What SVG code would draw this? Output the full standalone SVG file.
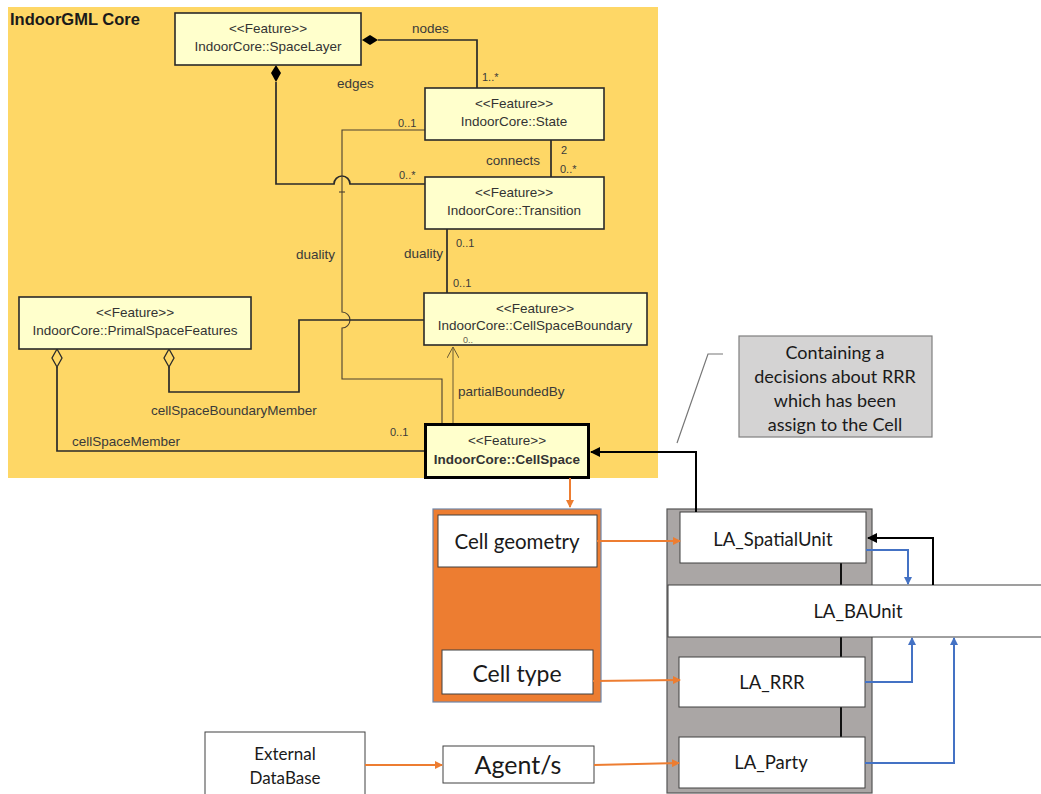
<svg xmlns="http://www.w3.org/2000/svg" width="1041" height="794" viewBox="0 0 1041 794">
<defs>
<style>
.uml{fill:#ffffcc;stroke:#2a2a2a;stroke-width:1.6}
.t{font-family:"Liberation Sans",Arial,sans-serif;font-size:13.5px;fill:#3a3a3a}
.tc{font-family:"Liberation Sans",Arial,sans-serif;font-size:13.5px;fill:#333;text-anchor:middle}
.lbl{font-family:"Liberation Sans",Arial,sans-serif;font-size:11px;fill:#3a3a3a}
.c{fill:none;stroke:#2a2a2a;stroke-width:1.7}
.thin{fill:none;stroke:#4a4030;stroke-width:1.1}
.box{fill:#ffffff;stroke:#404040;stroke-width:1}
.cal{font-family:Lato,"Open Sans",sans-serif;fill:#1a1a1a;text-anchor:middle}
.or{fill:none;stroke:#ed7d31;stroke-width:2}
.bl{fill:none;stroke:#4472c4;stroke-width:2}
.bk{fill:none;stroke:#000;stroke-width:2}
</style>
<marker id="ao" markerWidth="8" markerHeight="8" refX="7" refY="4" orient="auto" markerUnits="userSpaceOnUse"><path d="M0,0 L8,4 L0,8 z" fill="#ed7d31"/></marker>
<marker id="ab" markerWidth="8" markerHeight="8" refX="7" refY="4" orient="auto" markerUnits="userSpaceOnUse"><path d="M0,0 L8,4 L0,8 z" fill="#4472c4"/></marker>
<marker id="ak" markerWidth="10" markerHeight="10" refX="9" refY="5" orient="auto" markerUnits="userSpaceOnUse"><path d="M0,0 L10,5 L0,10 z" fill="#000"/></marker>
<marker id="aopen" markerWidth="12" markerHeight="12" refX="11" refY="6" orient="auto" markerUnits="userSpaceOnUse"><path d="M0,0 L11,6 L0,12" fill="none" stroke="#6a5a35" stroke-width="1"/></marker>
</defs>

<rect x="8" y="7" width="650" height="471" fill="#fed766"/>
<text x="10" y="25" font-family="Liberation Sans,Arial,sans-serif" font-size="16.5" font-weight="bold" fill="#1a1a1a">IndoorGML Core</text>

<g id="connectors">
  <!-- nodes -->
  <path class="c" d="M378,40 L477,40 L477,88"/>
  <path d="M362,40 L370,35 L378,40 L370,45 z" fill="#000"/>
  <!-- edges -->
  <path class="c" d="M276,82 L276,184 L334,184 A8,8 0 0 1 350,184 L425,184"/>
  <path d="M276,65 L281,73 L276,82 L271,73 z" fill="#000"/>
  <!-- state duality -->
  <path class="thin" d="M425,130 L342,130 L342,312 A8,8 0 0 1 342,328 L342,379 L442,379 L442,424"/>
  <path class="thin" d="M339,192 L345,192"/>
  <!-- connects -->
  <path class="c" d="M551,140 L551,177"/>
  <!-- transition-boundary duality -->
  <path class="c" d="M447,229 L447,293"/>
  <!-- partialBoundedBy -->
  <path fill="none" stroke="#6a5a35" stroke-width="1" d="M453,424 L453,347" marker-end="url(#aopen)"/>
  <!-- cellSpaceBoundaryMember -->
  <path class="c" d="M169,367 L169,392 L299,392 L299,320 L424,320"/>
  <path d="M169,349 L174,358 L169,367 L164,358 z" fill="#fed766" stroke="#2a2a2a" stroke-width="1.3"/>
  <!-- cellSpaceMember -->
  <path class="c" d="M57,367 L57,451 L425,451"/>
  <path d="M57,349 L62,358 L57,367 L52,358 z" fill="#fed766" stroke="#2a2a2a" stroke-width="1.3"/>
</g>

<g id="gray-container"><rect x="667" y="509" width="205" height="284" fill="#aaa6a5" stroke="#555" stroke-width="1.2"/></g>
<g id="inner-links">
  <path stroke="#111" stroke-width="2" d="M841,563 L841,585 M841,637 L841,657 M841,707 L841,737"/>
</g>

<g id="SpaceLayer"><rect class="uml" x="175" y="13" width="186" height="52"/>
<text class="tc" x="268" y="33">&lt;&lt;Feature&gt;&gt;</text><text class="tc" x="268" y="51">IndoorCore::SpaceLayer</text></g>
<g id="State"><rect class="uml" x="425" y="88" width="179" height="52"/>
<text class="tc" x="514" y="108">&lt;&lt;Feature&gt;&gt;</text><text class="tc" x="514" y="126">IndoorCore::State</text></g>
<g id="Transition"><rect class="uml" x="425" y="177" width="179" height="52"/>
<text class="tc" x="514" y="197">&lt;&lt;Feature&gt;&gt;</text><text class="tc" x="514" y="215">IndoorCore::Transition</text></g>
<g id="CellSpaceBoundary"><rect class="uml" x="424" y="293" width="223" height="52"/>
<text class="tc" x="535" y="313">&lt;&lt;Feature&gt;&gt;</text><text class="tc" x="535" y="330">IndoorCore::CellSpaceBoundary</text>
<text x="463" y="343" font-family="Liberation Sans,Arial,sans-serif" font-size="9" fill="#6a6050">0..</text></g>
<g id="PrimalSpaceFeatures"><rect class="uml" x="19" y="297" width="232" height="52"/>
<text class="tc" x="135" y="317">&lt;&lt;Feature&gt;&gt;</text><text class="tc" x="135" y="335">IndoorCore::PrimalSpaceFeatures</text></g>
<g id="CellSpace"><rect x="425.5" y="424.5" width="163" height="53" fill="#ffffcc" stroke="#000" stroke-width="3"/>
<text class="tc" x="507" y="445">&lt;&lt;Feature&gt;&gt;</text><text class="tc" x="507" y="464" font-weight="bold" fill="#111">IndoorCore::CellSpace</text></g>

<g id="labels">
  <text class="t" x="412" y="33">nodes</text>
  <text class="lbl" x="482" y="81">1..*</text>
  <text class="t" x="337" y="88">edges</text>
  <text class="lbl" x="398" y="127">0..1</text>
  <text class="t" x="486" y="165">connects</text>
  <text class="lbl" x="561" y="154">2</text>
  <text class="lbl" x="560" y="173">0..*</text>
  <text class="lbl" x="399" y="179">0..*</text>
  <text class="t" x="296" y="259">duality</text>
  <text class="t" x="404" y="258">duality</text>
  <text class="lbl" x="456" y="247">0..1</text>
  <text class="lbl" x="453" y="287">0..1</text>
  <text class="t" x="458" y="396">partialBoundedBy</text>
  <text class="t" x="151" y="415">cellSpaceBoundaryMember</text>
  <text class="t" x="72" y="446">cellSpaceMember</text>
  <text class="lbl" x="390" y="436">0..1</text>
</g>

<g id="callout"><rect x="739" y="336" width="193" height="101" fill="#d4d3d3" stroke="#7f7f7f" stroke-width="1.2"/>
<g class="cal" font-size="18"><text x="835" y="359">Containing a</text><text x="835" y="383">decisions about RRR</text><text x="835" y="407">which has been</text><text x="835" y="431">assign to the Cell</text></g></g>

<g id="CellBox"><rect x="433" y="509" width="168" height="193" fill="#ed7d31" stroke="#6f86a8" stroke-width="1.2"/></g>
<g id="CellGeometry"><rect class="box" x="438" y="515" width="159" height="52"/><text class="cal" x="517" y="549" font-size="20.5">Cell geometry</text></g>
<g id="CellType"><rect class="box" x="442" y="650" width="151" height="44"/><text class="cal" x="517" y="682" font-size="23">Cell type</text></g>

<g id="LA_SpatialUnit"><rect class="box" x="680" y="512" width="186" height="51"/><text class="cal" x="773" y="546" font-size="18.5">LA_SpatialUnit</text></g>
<g id="LA_BAUnit"><rect class="box" x="668" y="585" width="375" height="52"/><text class="cal" x="858" y="618" font-size="18.5">LA_BAUnit</text></g>
<g id="LA_RRR"><rect class="box" x="679" y="657" width="186" height="50"/><text class="cal" x="772" y="689" font-size="18.5">LA_RRR</text></g>
<g id="LA_Party"><rect class="box" x="679" y="737" width="186" height="51"/><text class="cal" x="771" y="769" font-size="18.5">LA_Party</text></g>

<g id="ExternalDB"><rect class="box" x="205" y="732" width="160" height="70"/><text class="cal" x="285" y="760" font-size="17">External</text><text class="cal" x="285" y="784" font-size="17">DataBase</text></g>
<g id="Agent"><rect class="box" x="443" y="746" width="151" height="37"/><text class="cal" x="518" y="774" font-size="25">Agent/s</text></g>

<g id="lower-connectors">
  <path class="bk" d="M696,512 L696,452 L591,452" marker-end="url(#ak)"/>
  <path fill="none" stroke="#777" stroke-width="1.2" d="M677,443 L708,354 L723,354"/>
  <path class="or" d="M570,478 L570,507" marker-end="url(#ao)"/>
  <path class="or" d="M597,541 L680,541" marker-end="url(#ao)"/>
  <path class="or" d="M593,681 L680,680" marker-end="url(#ao)"/>
  <path class="or" d="M365,765 L442,765" marker-end="url(#ao)"/>
  <path class="or" d="M594,765 L679,763" marker-end="url(#ao)"/>
  <path class="bk" d="M933,585 L933,538 L868,538" marker-end="url(#ak)"/>
  <path class="bl" d="M866,550 L908,550 L908,584" marker-end="url(#ab)"/>
  <path class="bl" d="M865,682 L912,682 L912,638" marker-end="url(#ab)"/>
  <path class="bl" d="M865,763 L954,763 L954,638" marker-end="url(#ab)"/>
</g>
</svg>
